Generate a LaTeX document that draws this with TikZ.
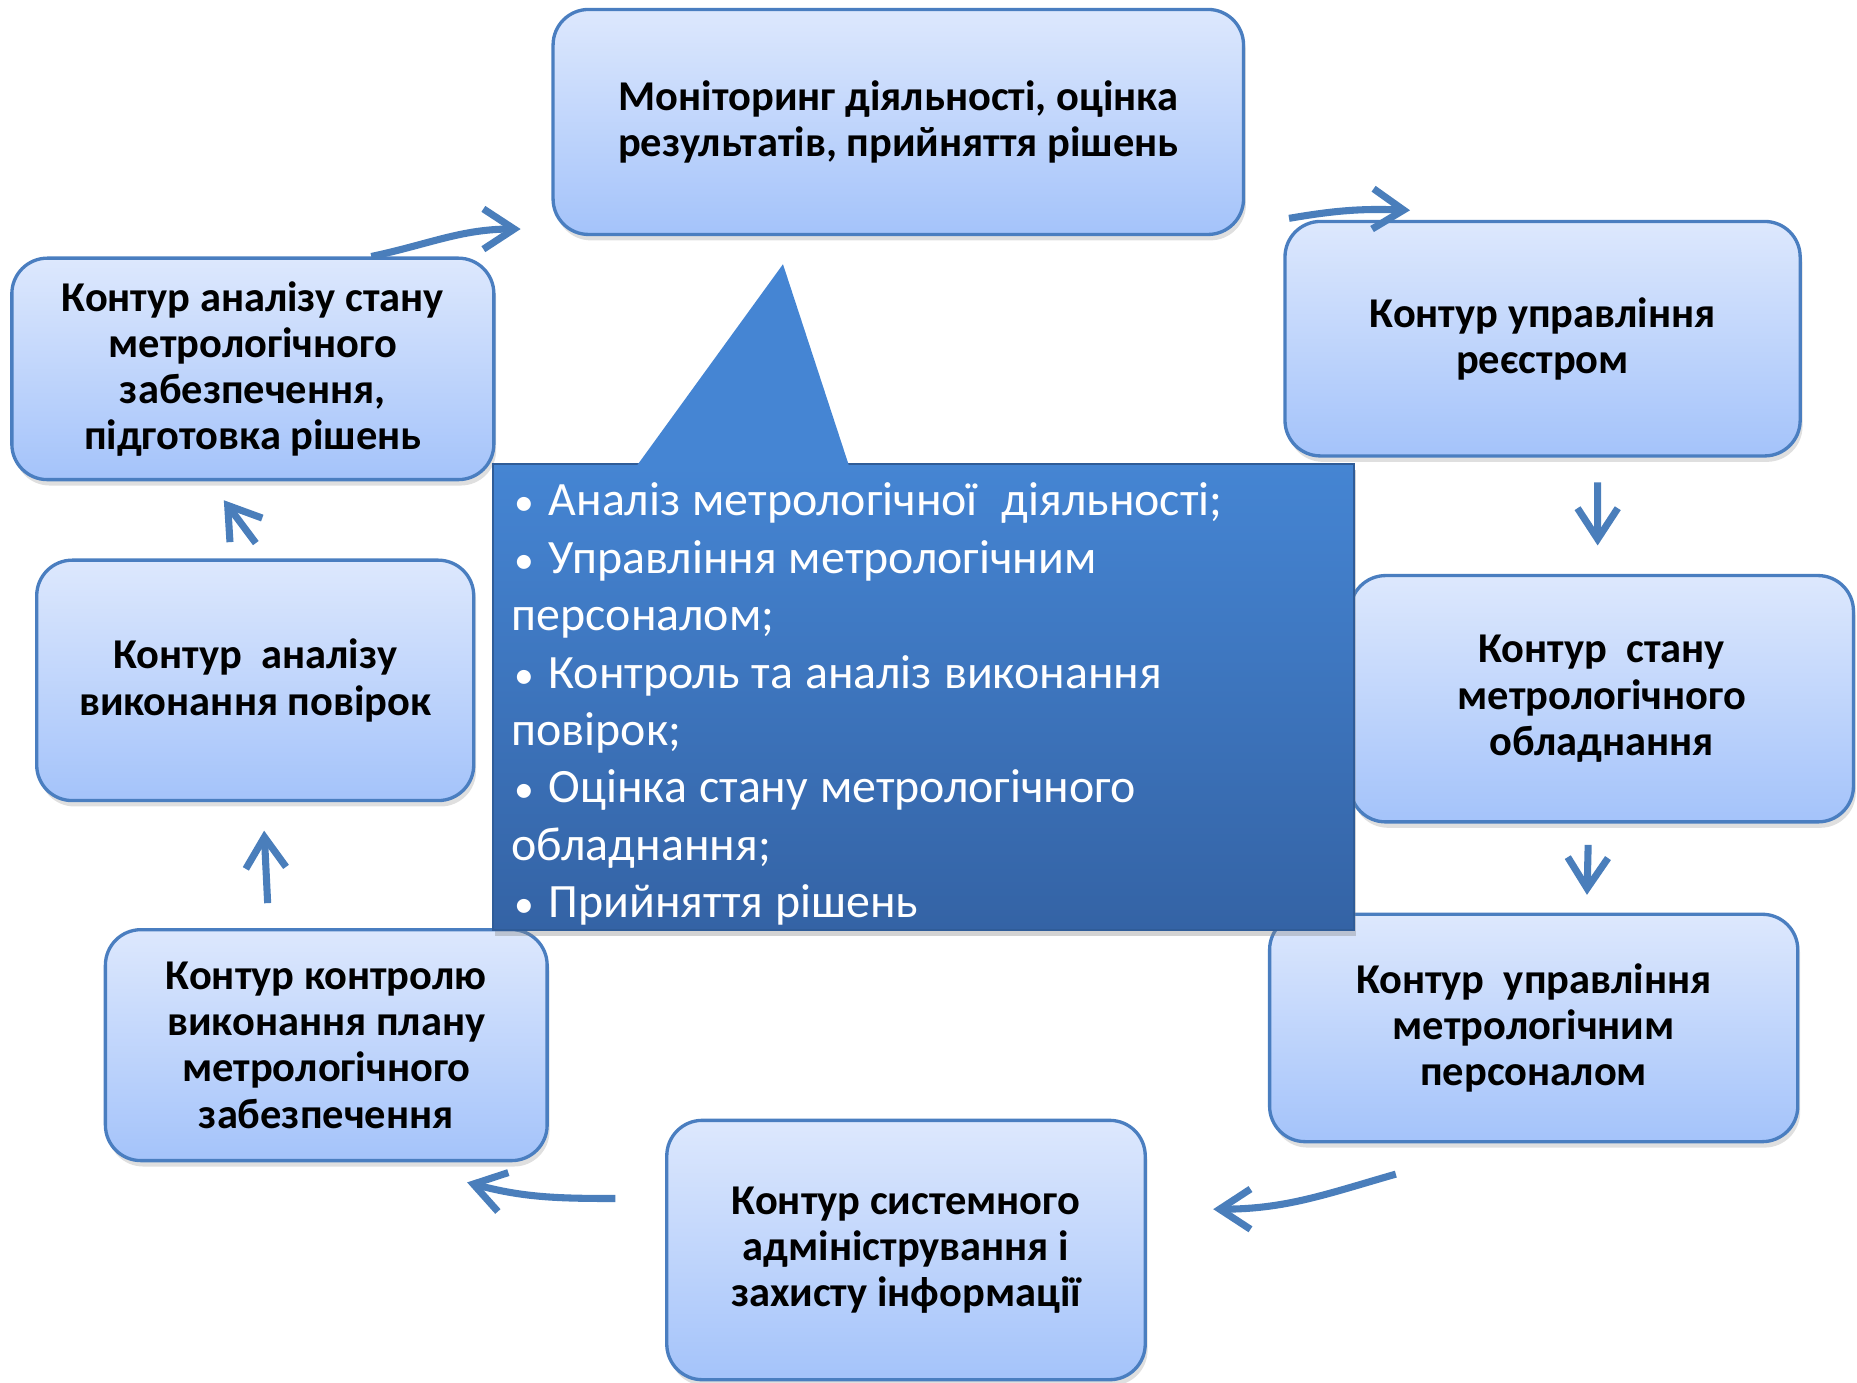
\documentclass[tikz,border=0pt]{standalone}
\usepackage{fontspec}
\setmainfont{Carlito}
\usetikzlibrary{arrows.meta,shadows}

\definecolor{boxtop}{HTML}{DDE8FD}
\definecolor{boxbottom}{HTML}{A4C3FA}
\definecolor{boxline}{HTML}{4A7EC0}
\definecolor{flowblue}{HTML}{4A7EBB}
\definecolor{calltop}{HTML}{4585D3}
\definecolor{callbottom}{HTML}{3463A5}
\definecolor{callline}{HTML}{2F5C98}

\newcommand{\blt}{\makebox[8.9pt][l]{\hspace{0.8pt}\fontsize{9.5}{9}\selectfont\textbullet}}

\begin{document}
\begin{tikzpicture}[
  box/.style={draw=boxline, line width=0.8pt, rounded corners=0.3cm,
    top color=boxtop, bottom color=boxbottom,
    drop shadow={shadow xshift=0.02cm, shadow yshift=-0.05cm, opacity=0.25},
    align=center, inner sep=0pt, font=\bfseries\fontsize{10.2}{11.1}\selectfont},
  callbox/.style={draw=callline, line width=0.5pt,
    top color=calltop, bottom color=callbottom,
    drop shadow={shadow xshift=0.02cm, shadow yshift=-0.05cm, opacity=0.35},
    align=left, inner xsep=0.16cm, inner ysep=0pt, text=white,
    font=\fontsize{11.5}{13.8}\selectfont},
  flow/.style={draw=flowblue, line width=1.7pt,
    -{Straight Barb[length=0.26cm,width=0.34cm]}}
]
\useasboundingbox (0,0) rectangle (15.68,11.67);

\node[box, minimum width=5.83cm, minimum height=1.90cm] (mon) at (7.585,10.64)
  {Моніторинг діяльності, оцінка\\результатів, прийняття рішень};
\node[box, minimum width=4.35cm, minimum height=1.98cm] (reg) at (13.025,8.81)
  {Контур управління\\реєстром};
\node[box, minimum width=4.25cm, minimum height=2.08cm] (equip) at (13.525,5.77)
  {Контур~ стану\\метрологічного\\обладнання};
\node[box, minimum width=4.46cm, minimum height=1.92cm] (pers) at (12.95,2.99)
  {Контур~ управління\\метрологічним\\персоналом};
\node[box, minimum width=4.04cm, minimum height=2.19cm] (sys) at (7.65,1.115)
  {Контур системного\\адміністрування і\\захисту інформації};
\node[box, minimum width=3.73cm, minimum height=1.95cm] (plan) at (2.755,2.845)
  {Контур контролю\\виконання плану\\метрологічного\\забезпечення};
\node[box, minimum width=3.69cm, minimum height=2.03cm] (ver) at (2.155,5.925)
  {Контур~ аналізу\\виконання повірок};
\node[box, minimum width=4.07cm, minimum height=1.87cm] (ana) at (2.135,8.555)
  {Контур аналізу стану\\метрологічного\\забезпечення,\\підготовка рішень};

\path[flow] ([xshift=1.0cm]ana.north) to[out=12,in=180] ([shift={(-0.26cm,0.06cm)}]mon.south west);
\path[flow] ([shift={(0.37cm,0.15cm)}]mon.south east) to[bend left=6] ([shift={(1.07cm,0.08cm)}]reg.north west);
\path[flow] ([shift={(0.465cm,-0.21cm)}]reg.south) -- ([shift={(-0.035cm,0.24cm)}]equip.north);
\path[flow] ([shift={(-0.115cm,-0.18cm)}]equip.south) -- ([shift={(0.45cm,0.15cm)}]pers.north);
\path[flow] ([shift={(1.08cm,-0.26cm)}]pers.south west) to[out=196,in=0] ([shift={(0.56cm,0.345cm)}]sys.east);
\path[flow] ([shift={(-0.42cm,0.435cm)}]sys.west) to[out=180,in=-15] ([shift={(-0.69cm,-0.17cm)}]plan.south east);
\path[flow] ([shift={(-0.495cm,0.21cm)}]plan.north) -- ([shift={(0.075cm,-0.24cm)}]ver.south);
\path[flow] ([shift={(0.005cm,0.13cm)}]ver.north) -- ([shift={(-0.245cm,-0.16cm)}]ana.south);

\node[callbox, minimum width=7.27cm, minimum height=3.93cm, text width=6.95cm] (bul) at (7.795,5.785)
  {\spaceskip=0.25em\relax
   \rule{0pt}{0.40cm}\blt Аналіз метрологічної\ \ діяльності;\\
   \blt Управління метрологічним\\
   персоналом;\\
   \blt Контроль та аналіз виконання\\
   повірок;\\
   \blt Оцінка стану метрологічного\\
   обладнання;\\
   \blt Прийняття рішень};
\fill[calltop] ([shift={(1.22cm,-0.03cm)}]bul.north west) -- ([shift={(2.46cm,1.68cm)}]bul.north west)
  -- ([shift={(3.02cm,-0.03cm)}]bul.north west) -- cycle;

\end{tikzpicture}
\end{document}
